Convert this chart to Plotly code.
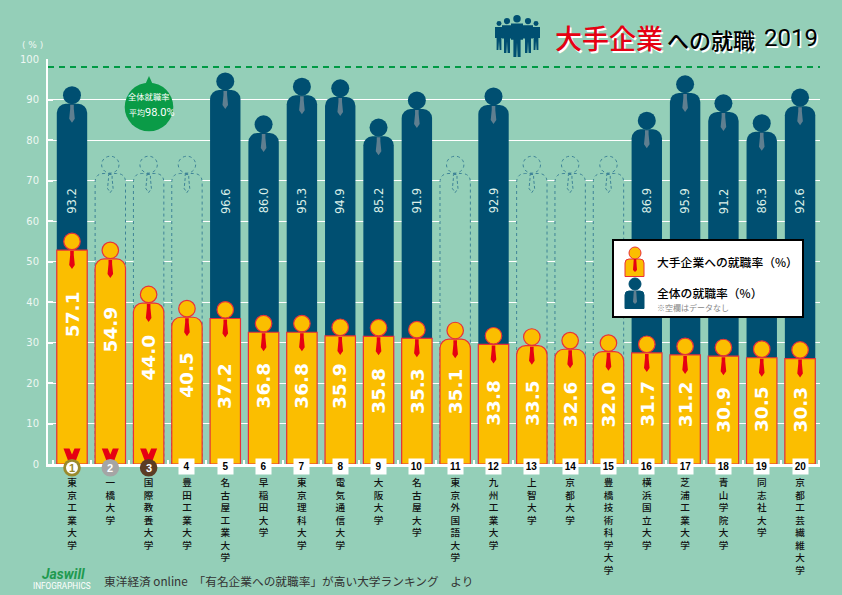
import plotly.graph_objects as go

# donnees
universities = ["東京工業大学", "一橋大学", "国際教養大学", "豊田工業大学", "名古屋工業大学",
                "早稲田大学", "東京理科大学", "電気通信大学", "大阪大学", "名古屋大学",
                "東京外国語大学", "九州工業大学", "上智大学", "京都大学", "豊橋技術科学大学",
                "横浜国立大学", "芝浦工業大学", "青山学院大学", "同志社大学", "京都工芸繊維大学"]
ranks = list(range(1, 21))
corporate_rate = [57.1, 54.9, 44.0, 40.5, 37.2, 36.8, 36.8, 35.9, 35.8, 35.3,
                  35.1, 33.8, 33.5, 32.6, 32.0, 31.7, 31.2, 30.9, 30.5, 30.3]
# hauteur dessinee : sur l'image la 5e barre monte a ~40 alors que son etiquette dit 37.2
corporate_height = [57.1, 54.9, 44.0, 40.5, 40.2, 36.8, 36.8, 35.9, 35.8, 35.3,
                    35.1, 33.8, 33.5, 32.6, 32.0, 31.7, 31.2, 30.9, 30.5, 30.3]
overall_rate = [93.2, None, None, None, 96.6, 86.0, 95.3, 94.9, 85.2, 91.9,
                None, 92.9, None, None, None, 86.9, 95.9, 91.2, 86.3, 92.6]
overall_average = 98.0
y_ticks = [0, 10, 20, 30, 40, 50, 60, 70, 80, 90, 100]

# placement (hors donnees)
corporate_label_mid = [37, 33.3, 26.2, 22, 19.3, 19.3, 19.3, 19.3, 18, 18,
                       18, 15, 15, 14.8, 14.8, 14.8, 14.8, 13.5, 13.5, 13.5]
overall_label_mid = 65
empty_head_top = 76

BG = "#94cfb8"
GOLD = "#fbbe00"
RED_LINE = "#e8303a"
RED = "#e60012"
NAVY = "#004f71"
TIE_GREY = "#5f7f90"
GREEN = "#0a9b47"
DASH_BLUE = "#3f8497"
JP = "Noto Sans CJK JP"
NARROW = "Roboto"

W, H = 842, 595
LEFT, RIGHT, TOP, BOTTOM = 48, 820, 59, 464
X0, X1 = -0.626, 19.52
UX = (RIGHT - LEFT) / (X1 - X0)   # pixels par categorie
UY = (BOTTOM - TOP) / 100         # pixels par point
HEAD = 17.3 / UY
HALF_W = 15.2 / UX


def px(x):
    return (x - LEFT) / (RIGHT - LEFT)


def py(y):
    return (BOTTOM - y) / (BOTTOM - TOP)


def body_path(i, top):
    r_x, r_y = 9 / UX, 9 / UY
    x0, x1 = i - HALF_W, i + HALF_W
    return (f"M{x0},0 L{x0},{top - r_y} Q{x0},{top} {x0 + r_x},{top} "
            f"L{x1 - r_x},{top} Q{x1},{top} {x1},{top - r_y} L{x1},0")


def tie_path(i, top):
    pts = [(-1.8, 1), (1.8, 1), (1.8, 5), (2.8, 15), (0, 19), (-2.8, 15), (-1.8, 5)]
    coords = [f"{i + a / UX},{top - b / UY}" for a, b in pts]
    return "M" + " L".join(coords) + " Z"


def ribbon_path(i):
    poly = [(-8.5, 14), (-2.5, 14), (0, 8), (2.5, 14), (8.5, 14), (3.6, 1), (-3.6, 1)]
    return "M" + " L".join(f"{i + a / UX},{b / UY + 0.4}" for a, b in poly) + " Z"


fig = go.Figure()
shapes = []
xs = list(range(len(universities)))

# silhouettes vides : pas de donnee
for i, v in enumerate(overall_rate):
    if v is None:
        top = empty_head_top - HEAD
        shapes.append(dict(type="path", path=body_path(i, top), layer="between", fillcolor=BG,
                           line=dict(color=DASH_BLUE, width=1, dash="3px,3px")))
        shapes.append(dict(type="circle", x0=i - 8.7 / UX, x1=i + 8.7 / UX,
                           y0=top + 0.1, y1=empty_head_top, layer="between",
                           line=dict(color=DASH_BLUE, width=1, dash="3px,3px")))
        shapes.append(dict(type="path", path=tie_path(i, top), layer="between",
                           line=dict(color=DASH_BLUE, width=1, dash="3px,2px")))

fig.add_trace(go.Bar(x=xs, y=[None if v is None else v - HEAD for v in overall_rate],
                     width=2 * HALF_W, marker=dict(color=NAVY, cornerradius=9, line=dict(width=0)),
                     hoverinfo="skip"))
fig.add_trace(go.Bar(x=xs, y=[v - HEAD for v in corporate_height], width=2 * HALF_W,
                     marker=dict(color=GOLD, cornerradius=9, line=dict(color=RED_LINE, width=1.2)),
                     hoverinfo="skip"))

# tetes
fig.add_trace(go.Scatter(x=xs, y=[None if v is None else v - HEAD / 2 for v in overall_rate],
                         mode="markers", marker=dict(size=18, color=NAVY), hoverinfo="skip"))
fig.add_trace(go.Scatter(x=xs, y=[v - HEAD / 2 for v in corporate_height], mode="markers",
                         marker=dict(size=16.5, color=GOLD, line=dict(color=RED_LINE, width=1.2)),
                         hoverinfo="skip"))

# cravates
for i, v in enumerate(overall_rate):
    if v is not None:
        shapes.append(dict(type="path", path=tie_path(i, v - HEAD), fillcolor=TIE_GREY,
                           line=dict(width=0), layer="above"))
for i, v in enumerate(corporate_height):
    shapes.append(dict(type="path", path=tie_path(i, v - HEAD), fillcolor=RED,
                       line=dict(width=0), layer="above"))

# moyenne generale
shapes.append(dict(type="line", x0=X0, x1=X1, y0=overall_average, y1=overall_average,
                   line=dict(color="#009a44", width=2, dash="6px,5px")))

annotations = []


def note(text, x, y, size, color="black", family=JP, anchor="left", **font_extra):
    annotations.append(dict(text=text, xref="paper", yref="paper", x=px(x), y=py(y),
                            xanchor=anchor, yanchor="middle", showarrow=False,
                            font=dict(family=family, size=size, color=color, **font_extra)))


# rubans et medailles
medal_colors = ["#9a8a2c", "#a5a5a5", "#5c3d24"]
for i in range(3):
    shapes.append(dict(type="path", path=ribbon_path(i), fillcolor=RED, line=dict(width=0), layer="above"))
    cx = LEFT + (i - X0) * UX
    shapes.append(dict(type="circle", xref="paper", yref="paper", fillcolor=medal_colors[i], line=dict(width=0),
                       x0=px(cx - 8.8), x1=px(cx + 8.8), y0=py(476.5), y1=py(458.9)))
    if i == 0:
        shapes.append(dict(type="circle", xref="paper", yref="paper", fillcolor="white", line=dict(width=0),
                           x0=px(cx - 6), x1=px(cx + 6), y0=py(473.7), y1=py(461.7)))
    annotations.append(dict(text=str(ranks[i]), x=i, y=0, yshift=-3.7, showarrow=False,
                            font=dict(family="Liberation Sans", size=11, weight="bold",
                                      color=medal_colors[0] if i == 0 else "white")))

# pastilles de rang
for i in range(3, len(ranks)):
    annotations.append(dict(text=str(ranks[i]), x=i, y=0, yshift=-2.4, showarrow=False,
                            width=15, height=15, bgcolor="white", borderpad=0, valign="middle",
                            font=dict(family="Liberation Sans", size=10, color="black", weight="bold")))

# bulle 98.0%
shapes.append(dict(type="circle", xref="paper", yref="paper", fillcolor=GREEN, line=dict(width=0),
                   x0=px(124.7), x1=px(173.3), y0=py(131.3), y1=py(82.7)))
shapes.append(dict(type="path", xref="paper", yref="paper", fillcolor=GREEN, line=dict(width=0),
                   path=f"M{px(149)},{py(76)} L{px(153.5)},{py(86)} L{px(144.5)},{py(86)} Z"))

for i, v in enumerate(corporate_rate):
    annotations.append(dict(text=f"{v:.1f}", x=i, y=corporate_label_mid[i], textangle=-90,
                            showarrow=False, font=dict(family="DejaVu Sans", size=18.5,
                                                       color="white", weight="bold")))
for i, v in enumerate(overall_rate):
    if v is not None:
        annotations.append(dict(text=f"{v:.1f}", x=i, y=overall_label_mid, textangle=-90,
                                showarrow=False, font=dict(family="DejaVu Sans", size=11.5,
                                                           color="#dcefe8")))

note("( % )", 32, 45, 9, "#eef7f3", "DejaVu Sans", anchor="center")
note("全体就職率", 149, 96.5, 8.3, "white", anchor="center")
note("平均", 127, 113, 8, "white")
note("98.0%", 143, 112, 11, "white", NARROW)

# titre
shadow = "1.5px 1.5px 0 white"
note("大手企業", 553, 37, 27, RED, shadow=shadow, weight=500)
note("への就職", 665, 39, 22, "black", shadow=shadow, weight=500)
note("2019", 762, 38, 24, "black", NARROW, shadow=shadow)

# pied de page
note("Jaswill", 40, 574, 14, "#1f9a50", NARROW, style="italic", weight="bold")
note("INFOGRAPHICS", 31, 586, 8.2, "white", NARROW)
note("東洋経済 online　「有名企業への就職率」が高い大学ランキング　より", 102, 580, 11.7, "#333333")

# legende
shapes.append(dict(type="rect", xref="paper", yref="paper", x0=px(613), x1=px(803), y0=py(317), y1=py(240),
                   fillcolor="white", line=dict(color="black", width=2)))
for top_px, head_y, fill, line_c, tie_c in [(259, 253, GOLD, RED_LINE, RED), (291, 284, NAVY, NAVY, TIE_GREY)]:
    bottom_px = top_px + 17.5
    shapes.append(dict(type="path", xref="paper", yref="paper", fillcolor=fill,
                       line=dict(color=line_c, width=1),
                       path=(f"M{px(625)},{py(bottom_px)} L{px(625)},{py(top_px + 4)} "
                             f"Q{px(625)},{py(top_px)} {px(629)},{py(top_px)} L{px(640)},{py(top_px)} "
                             f"Q{px(644)},{py(top_px)} {px(644)},{py(top_px + 4)} L{px(644)},{py(bottom_px)} Z")))
    shapes.append(dict(type="circle", xref="paper", yref="paper", fillcolor=fill,
                       line=dict(color=line_c, width=1),
                       x0=px(629), x1=px(641), y0=py(head_y + 6), y1=py(head_y - 6)))
    shapes.append(dict(type="path", xref="paper", yref="paper", fillcolor=tie_c, line=dict(width=0),
                       path=(f"M{px(633.8)},{py(top_px)} L{px(636.2)},{py(top_px)} L{px(637)},{py(top_px + 11)} "
                             f"L{px(635)},{py(top_px + 13)} L{px(633)},{py(top_px + 11)} Z")))
note("大手企業への就職率（%）", 655, 261, 11.8, weight=500)
note("全体の就職率（%）", 655, 292, 11.8, weight=500)
note("※空欄はデータなし", 655, 307, 8, "#888888")

# petit groupe de silhouettes du titre
for cx, y_top, y_bot, half in [(499, 21, 50, 4), (536, 21, 50, 4), (507, 18, 53, 5),
                               (528, 18, 53, 5), (517, 15, 57, 6)]:
    r = half * 0.62
    shapes.append(dict(type="circle", xref="paper", yref="paper", fillcolor=NAVY, line=dict(width=0),
                       x0=px(cx - r), x1=px(cx + r), y0=py(y_top + 2 * r), y1=py(y_top)))
    neck = y_top + 2 * r
    mid = (neck + y_bot) / 2
    shapes.append(dict(type="path", xref="paper", yref="paper", fillcolor=NAVY, line=dict(width=0),
                       path=(f"M{px(cx - half)},{py(neck + 1)} L{px(cx + half)},{py(neck + 1)} "
                             f"L{px(cx + half)},{py(mid)} L{px(cx + half * 0.6)},{py(mid)} "
                             f"L{px(cx + half * 0.6)},{py(y_bot)} L{px(cx + 0.6)},{py(y_bot)} "
                             f"L{px(cx)},{py(mid + 3)} L{px(cx - 0.6)},{py(y_bot)} "
                             f"L{px(cx - half * 0.6)},{py(y_bot)} L{px(cx - half * 0.6)},{py(mid)} "
                             f"L{px(cx - half)},{py(mid)} Z")))

fig.update_layout(
    width=W, height=H,
    margin=dict(l=LEFT, r=W - RIGHT, t=TOP, b=H - BOTTOM, pad=0),
    paper_bgcolor=BG, plot_bgcolor=BG,
    barmode="overlay", showlegend=False,
    shapes=shapes, annotations=annotations,
)
fig.update_xaxes(
    range=[X0, X1], tickmode="array", tickvals=xs,
    ticktext=["<br>".join(name) for name in universities],
    tickangle=0, ticks="", showgrid=False, zeroline=False,
    showline=True, linecolor="white", linewidth=2.5,
    ticklabelstandoff=8,
    tickfont=dict(family=JP, size=9.6, color="#111111", weight=500),
    minor=dict(tickmode="array", tickvals=[i - 0.5 for i in range(21)], ticks="inside",
               ticklen=4, tickwidth=2, tickcolor="white"),
)
fig.update_yaxes(
    range=[0, 100], tickmode="array", tickvals=y_ticks, ticktext=[str(t) for t in y_ticks],
    showgrid=True, gridcolor="white", gridwidth=1.3, zeroline=False,
    showline=True, linecolor="white", linewidth=2, ticks="inside", ticklen=5, tickwidth=2,
    tickcolor="white", ticklabelstandoff=5,
    tickfont=dict(family="DejaVu Sans", size=10, color="#eef7f3"),
)

# la page garde sinon la marge de 8 px du navigateur
fig.write_html("out.html", config={"displayModeBar": False},
               post_script="document.body.style.margin='0';document.body.style.background='#94cfb8';")
